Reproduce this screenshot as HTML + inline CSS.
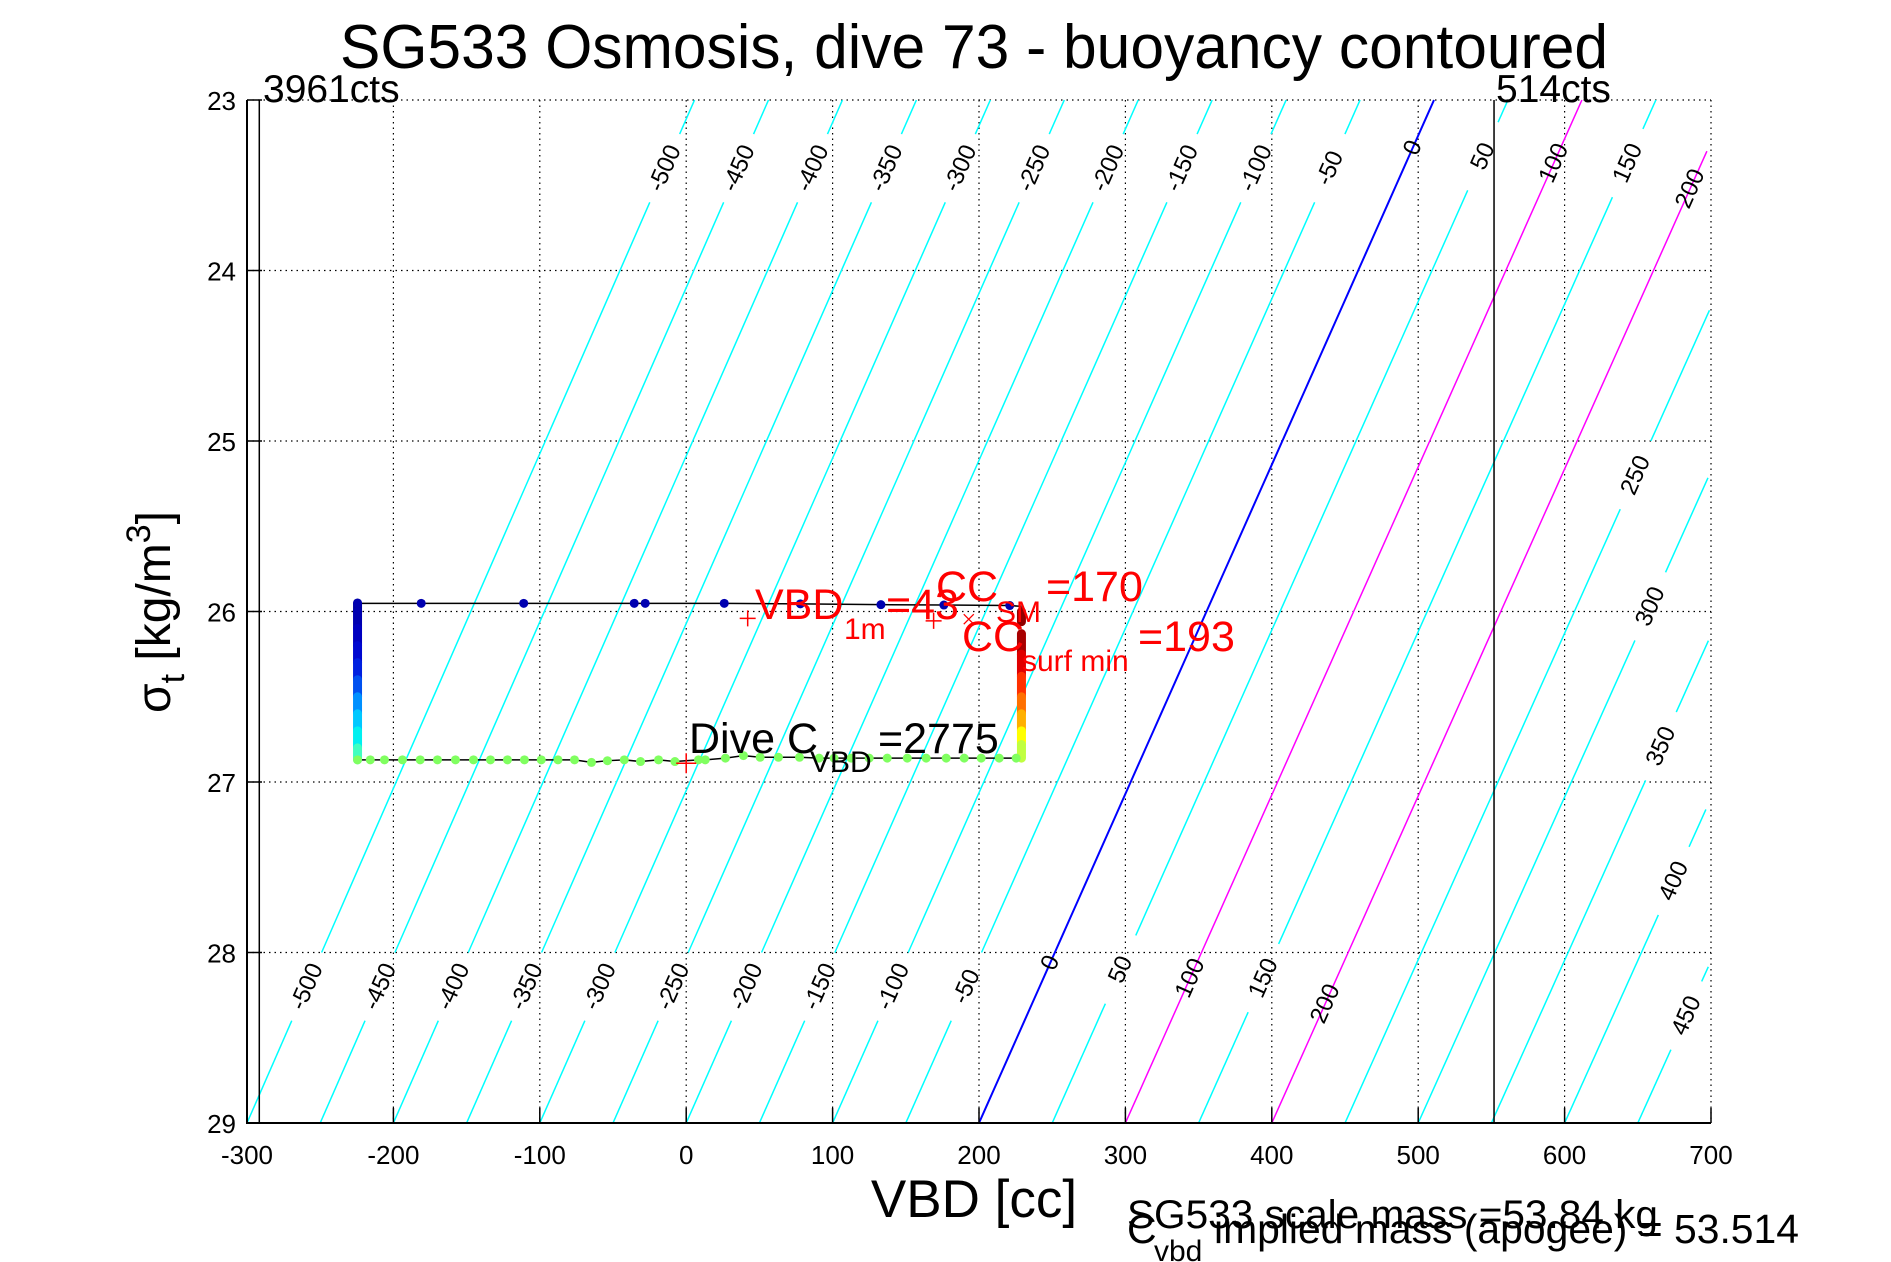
<!DOCTYPE html>
<html><head><meta charset="utf-8"><style>
html,body{margin:0;padding:0;background:#fff}
svg{display:block}
text{font-family:"Liberation Sans",Arial,sans-serif}
</style></head><body>
<svg id="chart" width="1891" height="1262" viewBox="0 0 1891 1262" xmlns="http://www.w3.org/2000/svg">
<rect x="0" y="0" width="1891" height="1262" fill="#fff"/>
<text x="974" y="68" font-size="62" text-anchor="middle" textLength="1268" lengthAdjust="spacingAndGlyphs">SG533 Osmosis, dive 73 - buoyancy contoured</text>
<g id="grid"></g>
<g id="contours"></g>
<g id="axes"></g>
<g id="track"></g>
<g id="annot">
  <text x="263" y="102" font-size="39">3961cts</text>
  <text x="1496" y="102" font-size="39">514cts</text>
  <g fill="#ff0000">
    <text x="755" y="619" font-size="43">VBD</text>
    <text x="844" y="639" font-size="30">1m</text>
    <text x="886" y="619" font-size="43">=43</text>
  </g>
  <g fill="#ff0000">
    <text x="936" y="601" font-size="43">CC</text>
    <text x="996" y="622" font-size="30">SM</text>
    <text x="1046" y="601" font-size="43">=170</text>
  </g>
  <g fill="#ff0000">
    <text x="962" y="651" font-size="43">CC</text>
    <text x="1022" y="671" font-size="30">surf min</text>
    <text x="1138" y="651" font-size="43">=193</text>
  </g>
  <g fill="#000">
    <text x="689" y="753" font-size="43">Dive C</text>
    <text x="810" y="772" font-size="30">VBD</text>
    <text x="878" y="753" font-size="43">=2775</text>
  </g>
  <text x="974" y="1217" font-size="53" text-anchor="middle">VBD [cc]</text>
  <g transform="translate(170,612) rotate(-90)">
    <text x="0" y="0" font-size="48" text-anchor="middle">σ<tspan font-size="34" dy="14">t</tspan><tspan dy="-14"> [kg/m</tspan><tspan font-size="34" dy="-20">3</tspan><tspan dy="20">]</tspan></text>
  </g>
  <text x="1127" y="1228" font-size="40" textLength="531" lengthAdjust="spacingAndGlyphs">SG533 scale mass =53.84 kg</text>
  <text x="1127" y="1243" font-size="41">C</text>
  <text x="1154" y="1261" font-size="30">vbd</text>
  <text x="1214" y="1243" font-size="41" textLength="585" lengthAdjust="spacingAndGlyphs">implied mass (apogee) = 53.514</text>
</g>
</svg>
<script>
// ---- data ----
const xTicks = [-300,-200,-100,0,100,200,300,400,500,600,700];
const yTicks = [23,24,25,26,27,28,29];
const contourLevels = [-500,-450,-400,-350,-300,-250,-200,-150,-100,-50,0,50,100,150,200,250,300,350,400,450];
const contourLabelSigmaTop = [23.40,23.40,23.40,23.40,23.40,23.40,23.40,23.40,23.40,23.40,23.28,23.33,23.37,23.37,23.52,25.2,25.97,26.79,27.58,28.37];
const contourLabelSigmaBottom = [28.2,28.2,28.2,28.2,28.2,28.2,28.2,28.2,28.2,28.2,28.06,28.1,28.15,28.15,28.3,null,null,null,null,null];
const countLines = [-291.6, 551.8];
const descentVBD = [-224.5,-181,-111,-35.5,-28,26,78,133,176,221];
const descentSigma = [25.952,25.952,25.952,25.952,25.952,25.952,25.955,25.96,25.962,25.965];
const bottomVBD = [-224.5,-215.8,-206.1,-193.8,-181.7,-169.9,-157.6,-145.3,-133.7,-122.1,-110.5,-99,-87.6,-76.3,-64.7,-53.8,-42.3,-31.2,-18.9,-7.7,8.4,13,26.8,39.1,50.5,63,77.4,90.8,101,112.7,125,137.3,151,163.9,177.6,189.9,201.5,213.8,225.4];
const bottomSigma = [26.87,26.87,26.87,26.87,26.87,26.87,26.87,26.87,26.87,26.87,26.87,26.87,26.87,26.87,26.885,26.875,26.87,26.88,26.87,26.88,26.87,26.87,26.86,26.845,26.855,26.855,26.855,26.86,26.86,26.86,26.86,26.86,26.86,26.86,26.86,26.86,26.86,26.86,26.86];
const leftSigma = [25.95,26.0,26.1,26.2,26.3,26.4,26.5,26.6,26.7,26.8,26.87];
const leftColors = ["#0000a0","#0000b0","#0000c0","#0008d0","#0020e0","#0050f0","#0090ff","#00c8ff","#00f0f0","#40ffc0","#80ff80"];
const rightVBD = 229;
const rightSigma = [26.0,26.06,26.13,26.25,26.38,26.5,26.6,26.7,26.78,26.86];
const rightColors = ["#900000","#a00000","#a80000","#e00000","#ff3000","#ff7000","#ffb000","#ffff00","#c0ff40","#80ff80"];
const redPlusVBD = [0,42,169];
const redPlusSigma = [26.89,26.04,26.055];
const redCrossVBD = [193];
const redCrossSigma = [26.045];

// ---- axes ----
const X = v => 247 + (v + 300) * 1.464;
const Y = s => 100 + (s - 23) * 170.5;
const NS = "http://www.w3.org/2000/svg";
function mk(tag, attrs, parent){ const e=document.createElementNS(NS,tag); for(const k in attrs) e.setAttribute(k,attrs[k]); parent.appendChild(e); return e; }
const gGrid=document.getElementById('grid'), gC=document.getElementById('contours'), gA=document.getElementById('axes'), gT=document.getElementById('track');

xTicks.forEach(v=>{
  if(v>-300){ const l=mk('line',{x1:X(v),x2:X(v),y1:Y(23),y2:Y(29),stroke:'#000','stroke-width':1.2,'stroke-dasharray':'1.5,4'},gGrid);
    }
  const t=mk('line',{x1:X(v),x2:X(v),y1:Y(29),y2:Y(29)-15,stroke:'#000','stroke-width':1.5},gA);
   
  const lb=mk('text',{x:X(v),y:1164,'font-size':26,'text-anchor':'middle'},gA); lb.textContent=v;
   
});
yTicks.forEach(s=>{
  if(s<29){ const l=mk('line',{x1:X(-300),x2:X(700),y1:Y(s),y2:Y(s),stroke:'#000','stroke-width':1.2,'stroke-dasharray':'1.5,4'},gGrid);
    }
  const t=mk('line',{x1:X(-300),x2:X(-300)+15,y1:Y(s),y2:Y(s),stroke:'#000','stroke-width':1.5},gA);
   
  const lb=mk('text',{x:236,y:Y(s)+10,'font-size':26,'text-anchor':'end'},gA); lb.textContent=s;
   
});
const ax=mk('path',{d:`M${X(-300)},${Y(23)}V${Y(29)}H${X(700)}`,fill:'none',stroke:'#000','stroke-width':2},gA);
 
countLines.forEach(v=>{
  const l=mk('line',{x1:X(v),x2:X(v),y1:Y(23),y2:Y(29),stroke:'#000','stroke-width':1.5},gA);
   
});

// ---- contours ----
const cvbd = (b,s) => 200 + b*(1 + (29-s)*0.0017) + (29-s)*51.8;
const angle = -Math.atan2(170.5, 51.8*1.464) * 180/Math.PI;
function clipSeg(b, s0, s1){
  const pts=[]; const n=60;
  for(let i=0;i<=n;i++){ const s=s0+(s1-s0)*i/n; const v=cvbd(b,s); if(v>=-300 && v<=700) pts.push([X(v),Y(s)]); }
  return pts;
}
contourLevels.forEach((b,i)=>{
  const special = (b===0||b===100||b===200);
  const col = b===0 ? '#0000ff' : special ? '#ff00ff' : '#00ffff';
  const w = b===0 ? 2 : 1.5;
  const gaps=[]; const lt=contourLabelSigmaTop[i], lb=contourLabelSigmaBottom[i];
  [lt,lb].forEach(s=>{ if(s!==null) gaps.push(s); });
  gaps.sort((a,c)=>c-a);
  let segs=[]; let cur=29;
  if(!special){
    gaps.forEach(g=>{ segs.push([cur,g+0.2]); cur=g-0.2; });
  }
  segs.push([cur,23]);
  segs.forEach(([a,c])=>{
    if(a<=c) return;
    const p=clipSeg(b,a,c); if(p.length<2) return;
    const l=mk('polyline',{points:p.map(q=>q.join(',')).join(' '),fill:'none',stroke:col,'stroke-width':w},gC);
     
  });
  gaps.forEach(s=>{
    const x=X(cvbd(b,s)), y=Y(s);
    const t=mk('text',{x:x,y:y,'font-size':24,'text-anchor':'middle','dominant-baseline':'central',transform:`rotate(${angle},${x},${y})`},gC);
    t.textContent=b;
     
  });
});

// ---- dive track ----
const dl=mk('polyline',{points:descentVBD.map((v,i)=>X(v)+','+Y(descentSigma[i])).join(' ')+' '+X(rightVBD)+','+Y(25.97),fill:'none',stroke:'#000','stroke-width':1.5},gT);
 
const bl=mk('polyline',{points:bottomVBD.map((v,i)=>X(v)+','+Y(bottomSigma[i])).join(' '),fill:'none',stroke:'#000','stroke-width':1.5},gT);
 
for(let i=0;i<leftSigma.length-1;i++){
  const s=mk('line',{x1:X(-224.5),x2:X(-224.5),y1:Y(leftSigma[i]),y2:Y(leftSigma[i+1]),stroke:leftColors[i],'stroke-width':9,'stroke-linecap':'round'},gT);
   
}
for(let i=0;i<rightSigma.length-1;i++){
  if(i===1) continue;
  const s=mk('line',{x1:X(rightVBD),x2:X(rightVBD),y1:Y(rightSigma[i]),y2:Y(rightSigma[i+1]),stroke:rightColors[i],'stroke-width':9,'stroke-linecap':'round'},gT);
   
}
descentVBD.forEach((v,i)=>{
  const c=mk('circle',{cx:X(v),cy:Y(descentSigma[i]),r:4.5,fill:'#0000b0'},gT);
   
});
bottomVBD.forEach((v,i)=>{
  const c=mk('circle',{cx:X(v),cy:Y(bottomSigma[i]),r:4.5,fill:'#80ff60'},gT);
   
});
redPlusVBD.forEach((v,i)=>{
  const x=X(v), y=Y(redPlusSigma[i]); const r = i===0 ? 10 : 8;
  const p=mk('path',{d:`M${x-r},${y}H${x+r}M${x},${y-r}V${y+r}`,stroke:'#ff0000','stroke-width':1.5},gT);
   
});
redCrossVBD.forEach((v,i)=>{
  const x=X(v), y=Y(redCrossSigma[i]); const r=5;
  const p=mk('path',{d:`M${x-r},${y-r}L${x+r},${y+r}M${x-r},${y+r}L${x+r},${y-r}`,stroke:'#ff0000','stroke-width':1.3},gT);
   
});
</script>
</body></html>
